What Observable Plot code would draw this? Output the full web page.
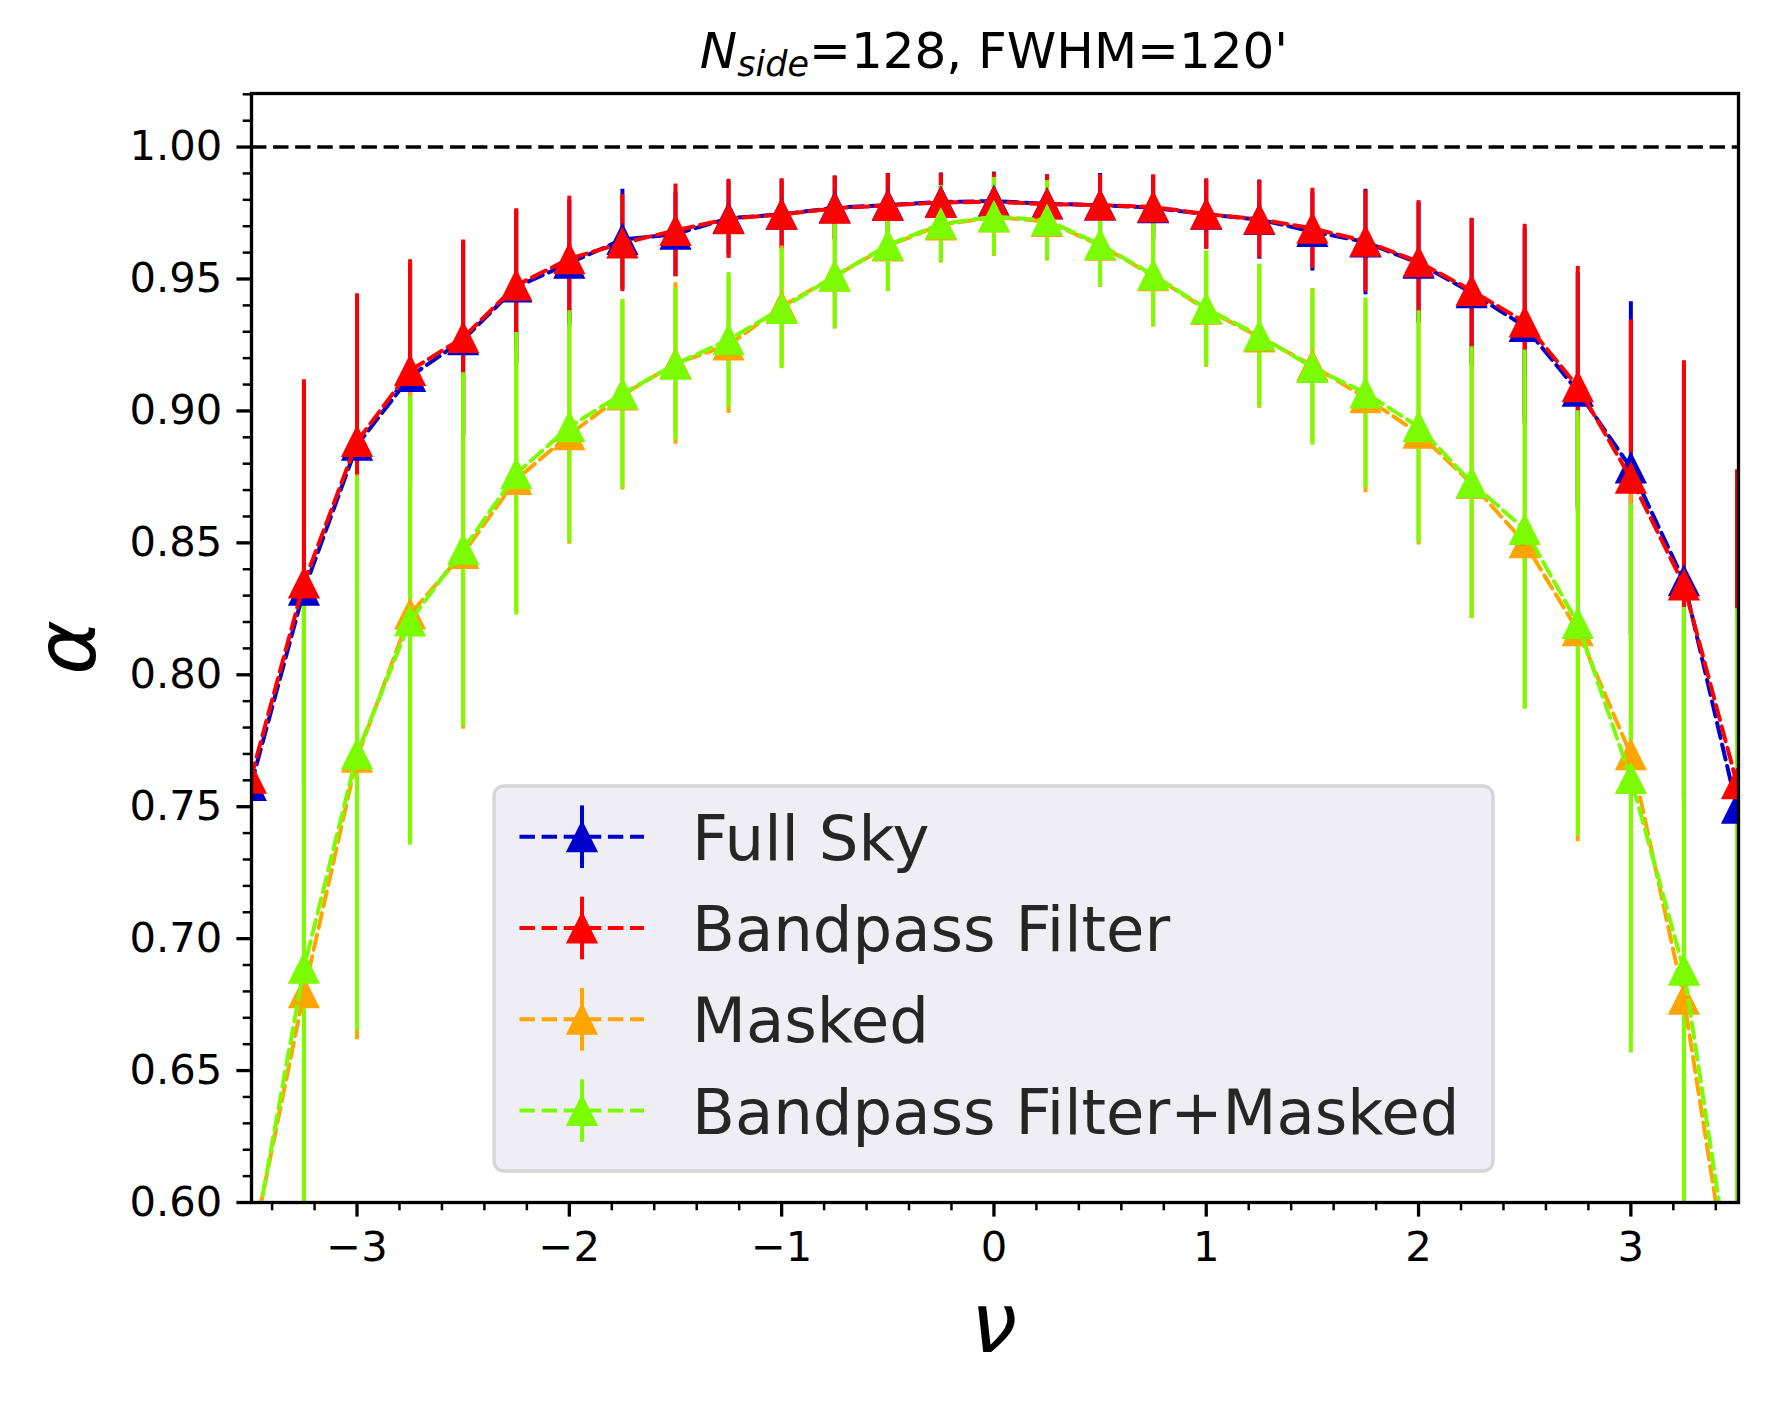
<!DOCTYPE html>
<html>
<head>
<meta charset="utf-8">
<script src="https://cdn.jsdelivr.net/npm/d3@7"></script>
<script src="https://cdn.jsdelivr.net/npm/@observablehq/plot@0.6"></script>
<style>
  html, body { margin: 0; padding: 0; background: #ffffff; overflow: hidden; }
  #chart svg { display: block; }
</style>
</head>
<body>
<div id="chart"></div>
<script>
// ---------------- data ----------------
const nu = [-3.5, -3.25, -3.0, -2.75, -2.5, -2.25, -2.0, -1.75, -1.5, -1.25, -1.0, -0.75, -0.5, -0.25,
            0.0, 0.25, 0.5, 0.75, 1.0, 1.25, 1.5, 1.75, 2.0, 2.25, 2.5, 2.75, 3.0, 3.25, 3.5];

const fullSky = [0.758, 0.832, 0.887, 0.913, 0.927, 0.947, 0.956, 0.965, 0.967, 0.973, 0.9745, 0.977, 0.978, 0.9792,
                 0.9795, 0.9785, 0.978, 0.977, 0.9745, 0.9725, 0.968, 0.964, 0.956, 0.9448, 0.932, 0.9075, 0.8784, 0.8356, 0.7494];
const fullSkyErr = [0.120, 0.078, 0.057, 0.043, 0.037, 0.029, 0.024, 0.019, 0.016, 0.014, 0.013, 0.012, 0.012, 0.011,
                    0.011, 0.011, 0.012, 0.012, 0.013, 0.015, 0.015, 0.020, 0.023, 0.028, 0.037, 0.045, 0.063, 0.082, 0.120];

const bandpass = [0.7608, 0.8348, 0.8884, 0.9153, 0.9278, 0.9476, 0.9577, 0.9636, 0.9684, 0.9728, 0.9745, 0.9768, 0.9779, 0.979,
                  0.9792, 0.9784, 0.978, 0.9773, 0.9746, 0.9726, 0.9692, 0.9643, 0.9565, 0.9456, 0.9337, 0.9092, 0.8745, 0.834, 0.7587];
const bandpassErr = [0.119, 0.077, 0.056, 0.042, 0.037, 0.029, 0.0237, 0.0184, 0.0176, 0.015, 0.0135, 0.0122, 0.012, 0.011,
                     0.011, 0.011, 0.0115, 0.0122, 0.0134, 0.0147, 0.0152, 0.0192, 0.0232, 0.0274, 0.037, 0.0455, 0.060, 0.085, 0.119];

const masked = [0.581, 0.6795, 0.7687, 0.823, 0.846, 0.874, 0.891, 0.906, 0.918, 0.925, 0.9395, 0.951, 0.9625, 0.9705,
                0.9735, 0.9718, 0.9628, 0.9512, 0.9385, 0.928, 0.9172, 0.905, 0.8915, 0.8725, 0.850, 0.8167, 0.7697, 0.677, 0.549];
const maskedErr = [0.27, 0.145, 0.107, 0.087, 0.0666, 0.050, 0.0415, 0.036, 0.0306, 0.026, 0.023, 0.020, 0.0173, 0.0145,
                   0.015, 0.015, 0.016, 0.0195, 0.022, 0.027, 0.0292, 0.036, 0.0423, 0.051, 0.063, 0.080, 0.106, 0.140, 0.27];

const bpMasked = [0.578, 0.6888, 0.770, 0.8204, 0.8475, 0.8762, 0.894, 0.9065, 0.9177, 0.927, 0.9388, 0.9511, 0.9628, 0.9709,
                  0.9736, 0.9723, 0.9631, 0.9515, 0.9388, 0.9286, 0.9165, 0.9068, 0.894, 0.8728, 0.8551, 0.8194, 0.7607, 0.688, 0.555];
const bpMaskedErr = [0.27, 0.145, 0.105, 0.085, 0.067, 0.0535, 0.044, 0.0357, 0.0287, 0.0255, 0.0228, 0.0197, 0.0175, 0.0145,
                     0.0147, 0.015, 0.016, 0.0195, 0.0218, 0.027, 0.0295, 0.036, 0.044, 0.0515, 0.068, 0.0807, 0.104, 0.1375, 0.27];

const seriesNames = ["Full Sky", "Bandpass Filter", "Masked", "Bandpass Filter+Masked"];
const seriesColors = ["#0000cd", "#ff0000", "#ffa500", "#7cfc00"];
const seriesValues = [fullSky, bandpass, masked, bpMasked];
const seriesErrors = [fullSkyErr, bandpassErr, maskedErr, bpMaskedErr];

const xMajorTicks = [-3, -2, -1, 0, 1, 2, 3];
const yMajorTicks = [0.60, 0.65, 0.70, 0.75, 0.80, 0.85, 0.90, 0.95, 1.00];
const xMinorTicks = d3.range(-34, 36, 2).filter(d => d % 10 !== 0).map(d => d / 10);
const yMinorTicks = d3.range(61, 103, 1).filter(d => d % 5 !== 0).map(d => d / 100);
const refLine = [1.0];

// ---------------- build ----------------
const rows = seriesValues.map((vals, k) => nu.map((x, i) => ({x, y: vals[i], e: seriesErrors[k][i]})));

const mplTriangle = {
  draw(ctx, size) {
    const r = Math.sqrt(size / Math.PI);
    ctx.moveTo(0, -r);
    ctx.lineTo(r, r);
    ctx.lineTo(-r, r);
    ctx.closePath();
  }
};

const DASH = "15.4,6.7";
const MARKER_R = 14.5;
const fmtX = d => (d < 0 ? "\u2212" + Math.abs(d) : String(d));

const errMarks = rows.map((data, k) =>
  Plot.ruleX(data, {x: "x", y1: d => d.y - d.e, y2: d => d.y + d.e,
    stroke: seriesColors[k], strokeWidth: 4, clip: true}));

const lineMarks = rows.flatMap((data, k) => [
  Plot.line(data, {x: "x", y: "y", stroke: seriesColors[k], strokeWidth: 4,
    strokeDasharray: DASH, clip: true}),
  Plot.dot(data, {x: "x", y: "y", symbol: mplTriangle, r: MARKER_R, fill: seriesColors[k],
    stroke: seriesColors[k], strokeWidth: 2, clip: true})
]);

const chart = Plot.plot({
  width: 1771,
  height: 1401,
  marginLeft: 251,
  marginRight: 33,
  marginTop: 93,
  marginBottom: 199,
  x: {domain: [-3.497, 3.507]},
  y: {domain: [0.6, 1.0203]},
  style: {fontFamily: "'DejaVu Sans', sans-serif", background: "#ffffff", color: "#000000", overflow: "visible"},
  marks: [
    ...errMarks,
    Plot.ruleY(refLine, {stroke: "#000000", strokeWidth: 3.5, strokeDasharray: DASH}),
    ...lineMarks,
    Plot.axisX({ticks: xMajorTicks, tickFormat: fmtX, tickSize: 14.6, tickPadding: 14.6,
      fontSize: 41.7, strokeWidth: 3.3, label: null, color: "#000000"}),
    Plot.axisX({ticks: xMinorTicks, tickSize: 8.3, strokeWidth: 2.5, stroke: "#000000",
      fill: "none", label: null}),
    Plot.axisY({ticks: yMajorTicks, tickFormat: d3.format(".2f"), tickSize: 14.6, tickPadding: 14.6,
      fontSize: 41.7, strokeWidth: 3.3, label: null, color: "#000000"}),
    Plot.axisY({ticks: yMinorTicks, tickSize: 8.3, strokeWidth: 2.5, stroke: "#000000",
      fill: "none", label: null}),
    Plot.frame({stroke: "#000000", strokeWidth: 3.3})
  ]
});

document.getElementById("chart").appendChild(chart);

// ---------------- title, axis labels, legend ----------------
const svg = d3.select(chart);
const FONT = "'DejaVu Sans', sans-serif";

const title = svg.append("text")
  .attr("x", 994).attr("y", 68)
  .attr("text-anchor", "middle")
  .attr("font-family", FONT).attr("font-size", 50).attr("fill", "#000000");
title.append("tspan").attr("font-style", "italic").text("N");
title.append("tspan").attr("font-style", "italic").attr("font-size", 35).attr("dy", 8).text("side");
title.append("tspan").attr("dy", -8).text("=128, FWHM=120'");

svg.append("text")
  .attr("x", 994).attr("y", 1352)
  .attr("text-anchor", "middle")
  .attr("font-family", FONT).attr("font-style", "italic").attr("font-size", 83)
  .attr("fill", "#000000")
  .text("\u03bd");

svg.append("text")
  .attr("transform", "translate(95,647.5) rotate(-90)")
  .attr("text-anchor", "middle")
  .attr("font-family", FONT).attr("font-style", "italic").attr("font-size", 83)
  .attr("fill", "#000000")
  .text("\u03b1");

const lg = svg.append("g");
lg.append("rect")
  .attr("x", 494).attr("y", 786).attr("width", 999).attr("height", 385)
  .attr("rx", 10).attr("ry", 10)
  .attr("fill", "#eeeef4").attr("stroke", "#d5d5d5").attr("stroke-width", 3.3);

seriesNames.forEach((name, k) => {
  const cy = 836.7 + k * 91.3;
  const col = seriesColors[k];
  lg.append("line").attr("x1", 519.5).attr("x2", 644).attr("y1", cy).attr("y2", cy)
    .attr("stroke", col).attr("stroke-width", 4).attr("stroke-dasharray", DASH);
  lg.append("line").attr("x1", 582).attr("x2", 582).attr("y1", cy - 31.3).attr("y2", cy + 31.3)
    .attr("stroke", col).attr("stroke-width", 4);
  const r = MARKER_R;
  lg.append("path")
    .attr("d", `M582,${cy - r}L${582 + r},${cy + r}L${582 - r},${cy + r}Z`)
    .attr("fill", col).attr("stroke", col).attr("stroke-width", 2);
  lg.append("text")
    .attr("x", 692).attr("y", cy + 23)
    .attr("text-anchor", "start")
    .attr("font-family", FONT).attr("font-size", 62.5).attr("fill", "#262626")
    .text(name);
});
</script>
</body>
</html>
